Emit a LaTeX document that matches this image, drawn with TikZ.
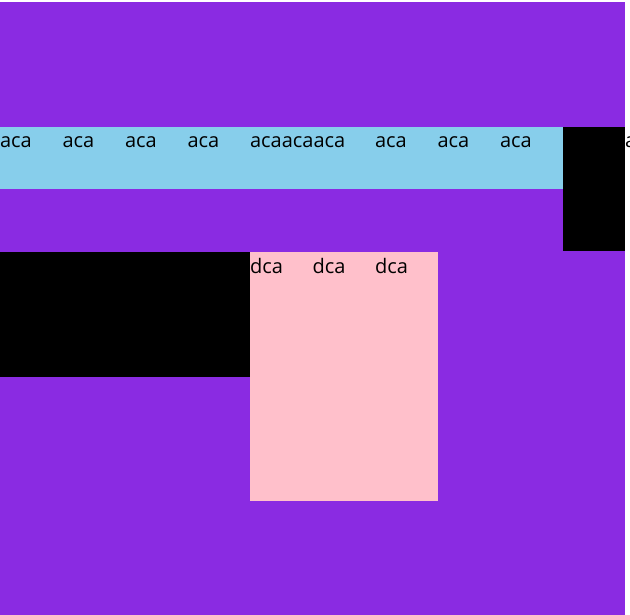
\documentclass[tikz,border=0pt]{standalone}
\usepackage{fontspec}
\setmainfont{Open Sans}
\usetikzlibrary{positioning}
\definecolor{bgpurple}{HTML}{8A2BE2}
\definecolor{bandblue}{HTML}{87CEEB}
\definecolor{boxpink}{HTML}{FFC0CB}

\begin{document}
\begin{tikzpicture}[x=1pt,y=-1pt,
    box/.style={rectangle,draw=none,inner sep=0pt,outer sep=0pt,anchor=north west},
    lbl/.style={inner sep=0pt,outer sep=0pt,anchor=base west,font=\fontsize{20}{24}\selectfont}]
    \useasboundingbox (0,0) rectangle (630,615);

    % boxes
    \node[box,fill=bgpurple,minimum width=625pt,minimum height=613pt] (bg) at (0,2) {};
    \node[box,fill=bandblue,minimum width=563pt,minimum height=62pt] (band) at (0,127) {};
    \node[box,fill=black,minimum width=62pt,minimum height=124pt] (blk1) at (563,127) {};
    \node[box,fill=black,minimum width=250pt,minimum height=125pt] (blk2) at (0,252) {};
    \node[box,fill=boxpink,minimum width=187.5pt,minimum height=249pt] (pink) at (250,252) {};

    % first row
    \node[lbl] (a1) at (0,148) {aca};
    \node[lbl] (a2) at ([xshift=62.5pt]a1.base west) {aca};
    \node[lbl] (a3) at ([xshift=62.5pt]a2.base west) {aca};
    \node[lbl] (a4) at ([xshift=62.5pt]a3.base west) {aca};
    \node[lbl] (a5) at ([xshift=62.5pt]a4.base west) {acaacaaca};
    \node[lbl] (a6) at ([xshift=125pt]a5.base west) {aca};
    \node[lbl] (a7) at ([xshift=62.5pt]a6.base west) {aca};
    \node[lbl] (a8) at ([xshift=62.5pt]a7.base west) {aca};
    \node[lbl] (a9) at (625,148) {aca};

    % second row
    \node[lbl] (d1) at (250,273) {dca};
    \node[lbl] (d2) at ([xshift=62.5pt]d1.base west) {dca};
    \node[lbl] (d3) at ([xshift=62.5pt]d2.base west) {dca};
\end{tikzpicture}
\end{document}
